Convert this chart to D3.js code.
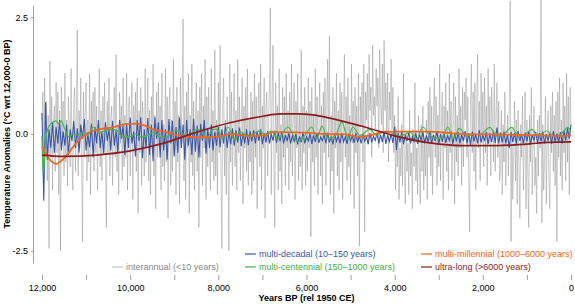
<!DOCTYPE html>
<html>
<head>
<meta charset="utf-8">
<script src="https://cdn.jsdelivr.net/npm/d3@7"></script>
<style>
  body { margin: 0; background: #fff; }
  svg { display: block; font-family: "Liberation Sans", Arial, Helvetica, sans-serif; }
</style>
</head>
<body>
<div id="chart"></div>
<script>
// sampled series start at 12,000 BP and step toward the present
const startYear = 12000;
const interannualStep = 20;
const decadalStep = 40;

// interannual (<10 years), one value per 20 years
const interannual = [
  0.3, 0.9, -0.6, 1.2, -0.3, 0.7, -1.0, 0.4, -2.45, 1.56, -0.5, 0.8, -1.2, 0.2, 0.6, -0.8, 1.1, -0.4, 0.9, -1.3,
  0.5, -2.5, 1.0, -0.2, 0.7, -0.9, 1.3, -0.6, 0.3, -1.1, 0.8, 0.2, -0.7, 1.4, -0.4, -1.2, 0.6, 1.0, -0.8, 0.4,
  2.23, -0.9, 0.5, -0.3, 1.2, -0.7, -2.3, 0.9, -0.5, 0.4, 1.1, -1.0, 0.3, -0.6, 1.3, -1.3, 0.7, -0.2, 0.9, -0.8,
  1.0, -0.4, 0.6, -1.2, 0.2, 1.4, -0.7, 0.5, -1.0, 0.8, -0.3, 1.1, -0.6, -2.0, 0.7, -0.4, 1.2, -0.9, 0.3, 0.6,
  -1.1, 0.4, 1.0, -0.5, 1.7, -0.8, 0.2, -1.3, 0.9, -0.2, 0.6, -1.0, 1.2, -0.7, 0.4, -0.5, 1.3, -1.2, 0.5, 0.8,
  -0.9, 0.3, 1.1, -1.4, 0.6, -0.3, 0.9, -0.8, 1.2, -1.7, 0.5, -0.4, 1.0, -1.1, 0.7, 0.2, -0.9, 1.4, -0.6, 0.3,
  1.2, -1.0, 0.5, -1.3, 0.8, -0.2, 1.5, -0.9, 0.4, -1.6, 0.9, -0.5, 1.1, -0.3, 0.6, -1.2, 1.3, -0.7, 0.2, -1.0,
  1.4, -0.6, 0.8, -1.8, 0.5, 1.0, -1.1, 0.3, -0.8, 1.6, -0.4, 0.7, -1.3, 1.0, -0.6, 0.4, -1.5, 1.2, -0.3, 0.9,
  2.46, -1.0, 0.6, -1.4, 0.9, -0.3, 1.3, -1.7, 0.4, -0.6, 1.5, -0.9, 0.7, -1.2, 0.3, 1.1, -0.8, 0.5, -2.0, 1.0,
  -0.5, 1.3, -1.1, 0.6, -0.3, 1.6, -1.4, 0.8, -0.7, 1.0, -0.2, -1.2, 1.4, -0.6, 0.5, -1.0, 1.8, -0.9, 0.3, -1.3,
  1.1, -0.4, 1.9, -0.8, -2.45, 0.6, 1.2, -0.9, 0.3, -1.3, 0.8, -0.5, -2.5, 1.5, -0.6, 0.9, -1.1, 0.4, 1.3, -0.7,
  0.5, -1.2, 1.6, -0.4, 0.8, -1.0, 0.2, 1.2, -1.5, 0.6, -0.3, 1.0, -0.8, 1.4, -1.1, 0.3, -0.6, 0.9, -1.3, 0.7,
  -1.0, 1.3, -0.5, 0.8, -1.6, 0.4, 1.1, -0.7, 1.5, -1.2, 0.6, -0.3, 1.2, -1.8, 0.5, 0.9, -0.9, 0.3, 1.0, 2.7,
  -1.3, 0.7, 1.9, -0.6, -2.0, 1.1, -0.4, 0.6, -1.2, 1.4, -0.8, 0.2, -1.5, 1.0, -0.5, 0.8, -1.1, 1.3, -0.3, 0.5,
  -1.2, 0.9, -0.6, 1.5, -0.9, 0.3, 1.1, -1.4, 0.7, -0.3, 1.3, -1.0, 0.4, -0.7, 1.8, -1.2, 0.6, -0.4, 1.0, -1.1,
  0.5, -0.8, 1.2, -0.3, 0.7, -2.2, 1.0, -0.6, 0.4, -1.1, 1.4, -0.5, 0.8, -1.3, 0.3, 1.1, -0.9, 0.6, -1.5, 0.9,
  -0.4, 1.2, -1.1, 0.6, 1.6, -0.5, 2.1, -1.3, 0.4, -0.8, 1.0, -1.7, 0.7, -0.3, 1.3, -0.9, 0.5, -1.2, 1.1, -0.6,
  0.9, -1.4, 0.3, 1.7, -0.5, 0.8, -1.0, 1.2, -0.7, 0.4, -1.3, 1.5, -0.2, 0.7, -1.6, 1.0, -0.4, 0.6, -0.9, 1.3,
  -2.4, 0.8, 0.2, 1.1, -0.6, 1.5, -2.1, 0.9, 0.3, 1.3, -0.2, 1.7, 0.5, 1.0, -0.5, 1.9, 0.4, 0.8, 0.1, 1.4,
  0.6, 1.2, -0.3, 1.8, 0.7, 0.2, 1.5, -0.4, 2.0, 0.5, 1.1, 0.0, 1.3, -0.6, 0.9, 0.3, 1.6, 0.1, 1.0, -0.4,
  0.4, -1.2, 0.1, -0.7, 0.8, -1.4, -0.3, -0.9, 0.2, -1.1, 1.3, -0.6, -1.5, 0.0, -0.8, -0.2, -1.3, 0.5, -0.9, -0.4,
  -1.6, 0.1, -0.7, 1.1, -1.0, -0.3, -1.3, 0.4, -0.6, -1.5, 0.2, -0.8, 0.6, -1.2, -0.1, -0.9, 0.3, -1.4, 0.7, -0.5,
  1.0, -0.9, 0.6, -1.3, 0.3, 1.2, -0.5, 0.8, -1.1, 0.4, -0.7, 1.5, -1.0, 0.2, 0.9, -1.4, 0.6, -0.3, 1.1, -0.8,
  0.5, -1.2, 1.3, -0.4, 0.7, -1.0, 0.2, 1.1, -1.5, 0.8, -0.6, 0.4, -0.9, 1.4, -0.3, 0.6, -1.1, 1.0, -0.7, 0.9,
  0.3, 1.2, -0.5, 0.8, -1.0, -2.1, 0.6, 1.5, -0.4, 0.9, -0.8, 1.1, -1.2, 0.5, 1.7, -0.3, 0.7, -1.0, 1.3, -0.2,
  0.9, -0.7, 1.2, -0.4, 0.6, -1.1, 1.4, -0.2, 0.8, -0.9, 1.0, 0.3, -0.6, 1.5, -0.8, 0.4, 1.1, -0.5, 0.7, -1.0,
  -0.8, 0.5, -1.3, 0.2, -0.6, 0.9, -1.1, -0.2, 0.4, -0.9, 0.6, 2.85, -2.3, 0.1, -1.4, -0.4, 0.7, -1.0, 0.3, -1.5,
  0.5, -0.7, -1.8, 0.2, -0.5, 0.8, -1.2, -0.1, 0.9, -1.6, 0.3, -0.8, -2.0, 0.4, -0.6, 1.0, -1.3, -0.3, 0.6, -1.1,
  -0.5, -1.7, 0.3, -0.9, 0.4, -0.3, 2.9, -1.9, 0.2, -1.2, -0.6, 0.8, -1.5, -0.2, 0.5, -1.0, -1.6, 0.6, -0.4, 0.9,
  -0.8, 0.4, -1.1, 0.7, -2.3, 0.9, -0.5, 1.2, -0.9, 0.3, -1.2, 1.1, -0.4, 0.6, -1.0, 1.3, -0.6, 0.8, -1.3, 1.0,
  0.2
];

// multi-decadal (10-150 years), one value per 40 years
const multiDecadal = [
  0.45, -1.43, 0.68, -0.55, 0.1, -0.3, 0.25, -0.4, 0.15, -0.2, 0.3, -0.35, 0.05, -0.25, 0.2, -0.45, 0.1, -0.15, 0.28, -0.3,
  0.12, -0.4, 0.2, -0.1, 0.32, -0.35, 0.0, -0.28, 0.22, -0.5, 0.15, -0.2, 0.3, -0.3, 0.05, -0.42, 0.25, -0.15, 0.1, -0.35,
  0.28, -0.25, 0.08, -0.4, 0.3, -0.1, 0.18, -0.45, 0.22, -0.3, 0.35, -0.2, 0.05, -0.48, 0.3, -0.15, 0.36, -0.52, 0.1, -0.3,
  0.34, -0.45, 0.2, -0.58, 0.36, -0.1, 0.25, -0.5, 0.3, -0.35, 0.1, -0.55, 0.32, -0.2, 0.28, -0.48, 0.15, -0.4, 0.35, -0.3,
  0.2, -0.55, 0.3, -0.25, 0.1, -0.45, 0.33, -0.38, 0.18, -0.5, 0.22, -0.15, 0.3, -0.42, 0.12, -0.3, 0.2, -0.35, 0.05, -0.25,
  0.15, -0.28, 0.1, -0.2, 0.18, -0.3, 0.05, -0.22, 0.12, -0.25, 0.08, -0.18, 0.14, -0.26, 0.02, -0.2, 0.1, -0.24, 0.06, -0.16,
  0.08, -0.2, 0.05, -0.15, 0.1, -0.22, 0.02, -0.18, 0.06, -0.2, 0.0, -0.14, 0.07, -0.19, 0.03, -0.16, 0.05, -0.2, -0.02, -0.15,
  0.02, -0.2, -0.04, -0.16, 0.0, -0.22, -0.05, -0.18, 0.03, -0.2, -0.06, -0.15, 0.01, -0.21, -0.03, -0.17, 0.02, -0.19, -0.07, -0.14,
  -0.02, -0.2, 0.03, -0.18, -0.05, -0.22, 0.0, -0.16, -0.04, -0.2, 0.02, -0.17, -0.06, -0.21, 0.01, -0.15, -0.03, -0.19, 0.02, -0.18,
  -0.04, -0.2, 0.0, -0.16, -0.06, -0.22, 0.02, -0.18, -0.05, -0.14, 0.03, -0.2, -0.02, -0.17, 0.05, -0.21, -0.03, -0.16, 0.0, -0.19,
  0.16, -0.34, 0.02, -0.18, 0.06, -0.22, -0.02, -0.15, 0.04, -0.2, -0.05, -0.16, 0.03, -0.21, 0.0, -0.14, 0.05, -0.2, -0.03, -0.17,
  0.04, -0.2, -0.02, -0.15, 0.06, -0.22, 0.0, -0.17, 0.03, -0.19, -0.04, -0.14, 0.05, -0.21, 0.01, -0.16, 0.04, -0.2, -0.02, -0.15,
  0.06, -0.2, 0.02, -0.24, 0.05, -0.16, 0.0, -0.2, 0.08, -0.18, -0.02, -0.15, 0.04, -0.22, 0.01, -0.17, 0.06, -0.19, 0.14, -0.2,
  0.03, -0.18, 0.05, -0.2, -0.01, -0.3, 0.04, -0.17, 0.02, -0.21, 0.06, -0.15, 0.0, -0.2, 0.03, -0.16, 0.05, -0.22, -0.02, -0.14,
  0.04, -0.19, 0.02, -0.16, 0.05, -0.2, 0.0, -0.15, 0.03, -0.21, 0.06, -0.17, 0.01, -0.18, 0.04, -0.2, 0.08, -0.14, 0.12, -0.1, 0.2
];

// multi-centennial (150-1000 years): peaks and troughs
const centennialYears = [12000, 11977, 11900, 11800, 11683, 11620, 11569, 11478, 11388, 11297, 11200, 11116, 11000, 10934, 10844,
  10707, 10600, 10481, 10322, 10163, 10027, 9868, 9778, 9620, 9483, 9324, 9166, 9029, 8871, 8712, 8485, 8417, 8259, 8122, 8032,
  7896, 7782, 7624, 7510, 7351, 7238, 7102, 6943, 6785, 6649, 6422, 6195, 6036, 5878, 5764, 5651, 5515, 5356, 5197, 5061, 4948,
  4789, 4562, 4404, 4268, 4109, 3950, 3814, 3655, 3497, 3361, 3202, 3043, 2907, 2794, 2680, 2567, 2540, 2363, 2204, 2068, 1841,
  1683, 1546, 1342, 1206, 1048, 889, 753, 549, 413, 254, 73, 0];
const centennialVals = [-0.05, -0.85, 0.0, 0.22, 0.28, 0.22, 0.28, 0.1, -0.06, 0.0, -0.02, 0.02, -0.03, 0.0, 0.15,
  0.03, 0.06, 0.1, 0.09, -0.06, -0.06, 0.0, -0.06, -0.04, 0.04, -0.07, -0.07, 0.07, 0.05, -0.04, 0.1, 0.08, -0.1, 0.1, 0.1,
  -0.1, 0.15, -0.15, 0.05, -0.03, -0.02, 0.06, 0.0, 0.06, -0.1, 0.15, -0.17, -0.03, 0.15, -0.1, 0.17, -0.1, -0.05, 0.26, -0.1, 0.15,
  -0.03, 0.1, -0.03, 0.04, 0.04, -0.05, -0.03, 0.04, -0.1, 0.15, -0.03, -0.1, -0.05, 0.15, -0.1, 0.08, 0.12, -0.04, 0.0, -0.02, 0.14,
  -0.04, -0.02, 0.14, -0.03, -0.01, 0.1, -0.04, 0.07, -0.04, -0.02, 0.14, 0.05];

// multi-millennial (1000-6000 years)
const millennialYears = [12000, 11850, 11680, 11500, 11230, 11000, 10700, 10400, 10100, 9870, 9700, 9480, 9170, 8870, 8580,
  8260, 7960, 7670, 7350, 6950, 6760, 6490, 6040, 5580, 5130, 4800, 4560, 4200, 3650, 3200, 2750, 2300, 1770, 1000, 250, 0];
const millennialVals = [-0.27, -0.52, -0.64, -0.52, -0.2, 0.0, 0.1, 0.14, 0.21, 0.22, 0.19, 0.1, 0.04, -0.04, -0.07,
  -0.07, -0.04, 0.0, -0.04, -0.03, 0.04, 0.04, 0.03, 0.0, -0.01, -0.06, -0.03, 0.05, 0.05, 0.05, 0.02, -0.01, -0.01, -0.02, -0.04, -0.03];

// ultra-long (>6000 years)
const ultraYears = [12000, 11516, 10760, 10000, 9256, 8485, 7737, 6989, 6603, 6218, 5855, 5470, 4721, 3950, 3202, 2454, 1683, 934, 526, 0];
const ultraVals = [-0.45, -0.48, -0.45, -0.36, -0.2, 0.04, 0.24, 0.38, 0.43, 0.43, 0.41, 0.34, 0.16, -0.05, -0.19, -0.25, -0.25, -0.21, -0.18, -0.17];

const xTicks = [12000, 11000, 10000, 9000, 8000, 7000, 6000, 5000, 4000, 3000, 2000, 1000, 0];
const yTicks = [-2.5, 0, 2.5];

const legendNames = ["interannual (<10 years)", "multi-decadal (10\u2013150 years)", "multi-centennial (150\u20131000 years)",
  "multi-millennial (1000\u20136000 years)", "ultra-long (>6000 years)"];
const legendColors = ["#c4c4c4", "#3a56a8", "#45b649", "#f26522", "#8e1c1c"];
const legendText = ["#8a8a8a", "#3a56a8", "#3fb046", "#f26522", "#8e1c1c"];

const W = 575, H = 304;
const svg = d3.select("#chart").append("svg").attr("width", W).attr("height", H);

const x = d3.scaleLinear().domain([12000, 0]).range([42, 571]);
const y = d3.scaleLinear().domain([-2.76, 2.76]).range([263, 5]);

// sampled series -> {t, v}
const sampled = (arr, step) => arr.map((v, i) => ({ t: startYear - i * step, v }));
const knots = (ts, vs) => ts.map((t, i) => ({ t, v: vs[i] }));

const rough = d3.line().x(d => x(d.t)).y(d => y(d.v));
const smooth = d3.line().x(d => x(d.t)).y(d => y(d.v)).curve(d3.curveMonotoneX);

// y axis
const yAxis = svg.append("g")
  .attr("transform", `translate(33,0)`)
  .call(d3.axisLeft(y).tickValues(yTicks).tickSize(2).tickPadding(3).tickSizeOuter(0).tickFormat(d => d.toFixed(1)));
yAxis.select(".domain").attr("stroke", "#a0a0a0");
yAxis.selectAll(".tick line").attr("stroke", "#a0a0a0");
yAxis.selectAll(".tick text").attr("fill", "#000").style("font-size", "9px");

// x axis, ticks every 1000 years, labels every 2000
const xAxis = svg.append("g")
  .attr("transform", `translate(0,275)`)
  .call(d3.axisBottom(x).tickValues(xTicks).tickSize(5).tickPadding(5)
    .tickFormat(d => d % 2000 === 0 ? d3.format(",")(d) : ""));
xAxis.select(".domain").remove();
xAxis.selectAll(".tick line").attr("stroke", "#a0a0a0");
xAxis.selectAll(".tick text").attr("fill", "#000").style("font-size", "9px");

svg.append("text")
  .attr("x", (x.range()[0] + x.range()[1]) / 2)
  .attr("y", 301)
  .attr("text-anchor", "middle")
  .style("font-size", "9px").style("font-weight", "bold")
  .text("Years BP (rel 1950 CE)");

svg.append("text")
  .attr("transform", `translate(10,${y(0)}) rotate(-90)`)
  .attr("text-anchor", "middle")
  .style("font-size", "9px").style("font-weight", "bold")
  .text("Temperature Anomalies (\u00B0C wrt 12,000-0 BP)");

// series
svg.append("path").datum(sampled(interannual, interannualStep))
  .attr("d", rough).attr("fill", "none")
  .attr("stroke", "#858585").attr("stroke-width", 0.6).attr("stroke-opacity", 0.7);

svg.append("path").datum(sampled(multiDecadal, decadalStep))
  .attr("d", rough).attr("fill", "none")
  .attr("stroke", legendColors[1]).attr("stroke-width", 1.1);

svg.append("path").datum(knots(centennialYears, centennialVals))
  .attr("d", smooth).attr("fill", "none")
  .attr("stroke", legendColors[2]).attr("stroke-width", 1.2);

svg.append("path").datum(knots(millennialYears, millennialVals))
  .attr("d", smooth).attr("fill", "none")
  .attr("stroke", legendColors[3]).attr("stroke-width", 1.8);

svg.append("path").datum(knots(ultraYears, ultraVals))
  .attr("d", smooth).attr("fill", "none")
  .attr("stroke", legendColors[4]).attr("stroke-width", 1.7);

// legend
const legendPos = [[112, 267], [245, 254], [245, 267], [421, 254], [421, 267]];
const lg = svg.append("g").selectAll("g").data(legendNames).join("g")
  .attr("transform", (d, i) => `translate(${legendPos[i][0]},${legendPos[i][1]})`);
lg.append("line").attr("x1", 0).attr("x2", 11).attr("y1", 0).attr("y2", 0)
  .attr("stroke", (d, i) => legendColors[i]).attr("stroke-width", 1.2);
lg.append("text").attr("x", 14).attr("dy", "0.33em")
  .style("font-size", "9px").attr("fill", (d, i) => legendText[i])
  .text(d => d);
</script>
</body>
</html>
